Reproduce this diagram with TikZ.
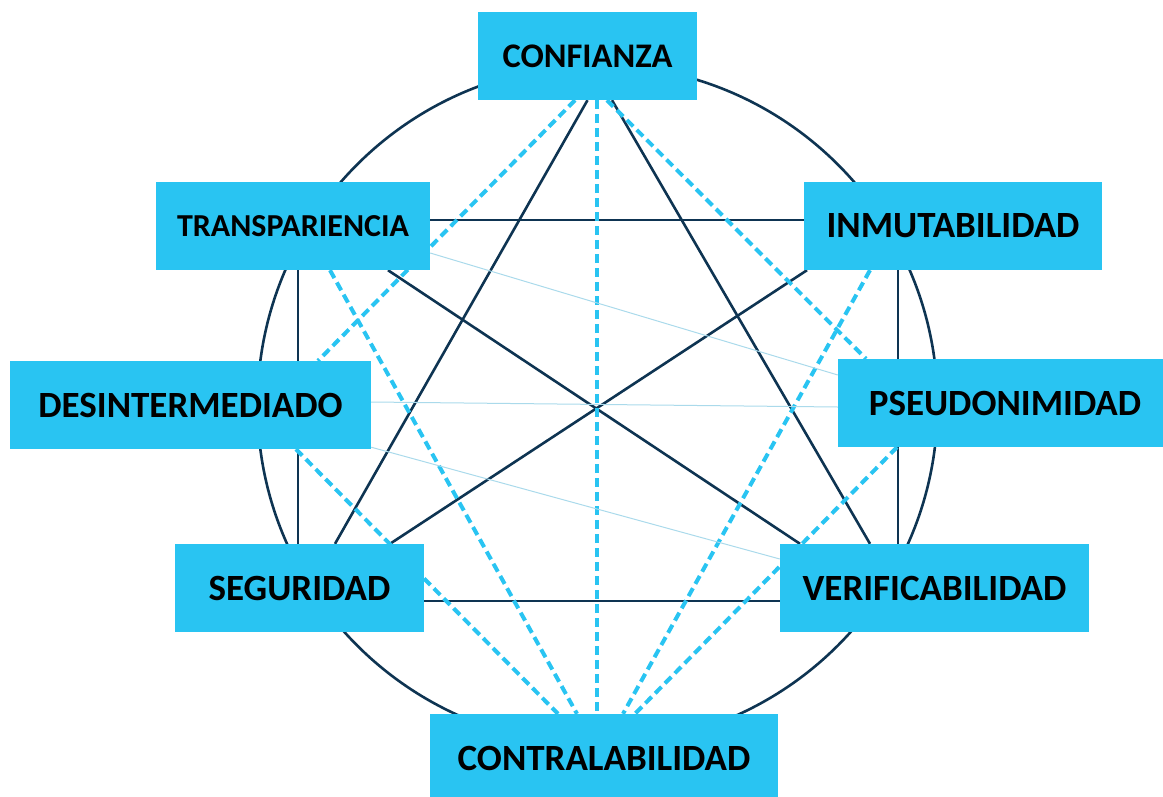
\documentclass[tikz,border=0pt]{standalone}
\usepackage{fontspec}
\setmainfont{Carlito}
\usetikzlibrary{backgrounds}
\definecolor{boxblue}{RGB}{41,196,242}
\definecolor{navy}{RGB}{14,52,82}
\definecolor{paleblue}{RGB}{170,218,235}

\begin{document}
\begin{tikzpicture}[x=1pt,y=-1pt,
    box/.style={fill=boxblue,minimum height=88pt,inner sep=0pt,font=\bfseries\fontsize{37}{44}\selectfont},
    navyline/.style={navy,line width=2.6pt},
    dashline/.style={boxblue,line width=4pt,dash pattern=on 9pt off 5pt},
    thinline/.style={paleblue,line width=1pt}]
    \useasboundingbox (0,0) rectangle (1163,796);
    % boxes
    \node[box,minimum width=219pt,font=\bfseries\fontsize{34.5}{40}\selectfont] (conf) at (587.5,56) {CONFIANZA};
    \node[box,minimum width=274pt,font=\bfseries\fontsize{32}{38}\selectfont] (trans) at (293,226) {TRANSPARIENCIA};
    \node[box,minimum width=298pt] (inm) at (953,226) {INMUTABILIDAD};
    \node[box,minimum width=361pt] (desint) at (190.5,405) {DESINTERMEDIADO};
    \node[box,minimum width=334pt] (pseudo) at (1005,403) {PSEUDONIMIDAD};
    \node[box,minimum width=249pt] (seg) at (299.5,588) {SEGURIDAD};
    \node[box,minimum width=309pt] (verif) at (934.5,588) {VERIFICABILIDAD};
    \node[box,minimum width=348pt] (contra) at (604,758) {CONTRALABILIDAD};
    \begin{scope}[on background layer]
      \coordinate (hub) at (597.5,405);
      \draw[navyline] (hub) circle[radius=340pt];
      % rectangle and star
      \draw[navyline] ([xshift=5pt]trans.south) -- ([xshift=-1.5pt]seg.north);
      \draw[navyline] ([xshift=-55pt]inm.south) -- ([xshift=-36.5pt]verif.north);
      \draw[navyline] ([yshift=6pt]trans.east) -- ([yshift=6pt]inm.west);
      \draw[navyline] ([yshift=-13pt]seg.east) -- ([yshift=-13pt]verif.west);
      \draw[navyline] (conf.south) -- ([xshift=35.5pt]seg.north);
      \draw[navyline] ([xshift=24.5pt]conf.south) -- ([xshift=-64.5pt]verif.north);
      \draw[navyline] ([xshift=95pt]trans.south) -- ([xshift=-134.5pt]verif.north);
      \draw[navyline] ([xshift=-146pt]inm.south) -- ([xshift=90.5pt]seg.north);
      % dashed links
      \draw[dashline] ([xshift=9.5pt]conf.south) -- ([xshift=-7pt]contra.north);
      \draw[dashline] ([xshift=-12.5pt]conf.south) -- ([xshift=127.5pt]desint.north);
      \draw[dashline] ([xshift=19.5pt]conf.south) -- ([xshift=-139pt]pseudo.north);
      \foreach \from/\a/\b in {trans/37/-27,inm/-83/19,desint/105.5/-46,pseudo/-108/31} {
        \draw[dashline] ([xshift=\a pt]\from.south) -- ([xshift=\b pt]contra.north);
      }
      % thin links
      \draw[thinline] ([yshift=-27pt]trans.east) -- ([yshift=28pt]pseudo.west);
      \draw[thinline] ([yshift=3pt]desint.east) -- ([yshift=-4pt]pseudo.west);
      \draw[thinline] ([yshift=2pt]desint.south east) -- ([yshift=29pt]verif.west);
    \end{scope}
\end{tikzpicture}
\end{document}
